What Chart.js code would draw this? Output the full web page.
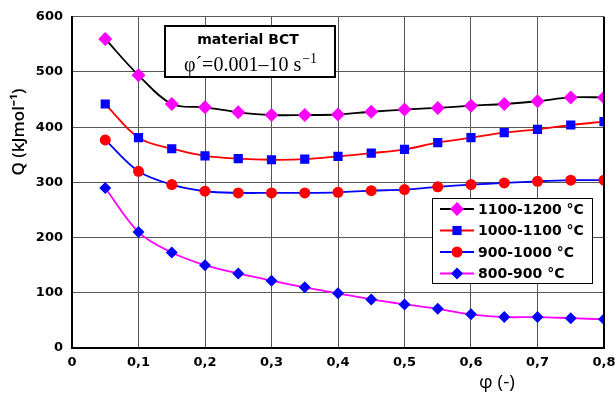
<!DOCTYPE html>
<html>
<head>
<meta charset="utf-8">
<script src="https://cdn.jsdelivr.net/npm/chart.js@4"></script>
<style>
  html, body { margin: 0; padding: 0; background: #fff; }
  canvas { display: block; }
</style>
</head>
<body>
<canvas id="qChart" width="616" height="406"></canvas>
<script>
// strain values (phi) and activation energy Q for each temperature range
const strain = [0.05, 0.1, 0.15, 0.2, 0.25, 0.3, 0.35, 0.4, 0.45, 0.5, 0.55, 0.6, 0.65, 0.7, 0.75, 0.8];
const q1100_1200 = [560, 494, 442, 436, 427, 422, 422, 423, 428, 432, 435, 439, 442, 447, 454, 454];
const q1000_1100 = [442, 381, 361, 348, 343, 341, 342, 347, 353, 360, 372, 381, 390, 396, 404, 410];
const q900_1000 = [377, 320, 296, 284, 281, 281, 281, 282, 285, 287, 292, 296, 299, 302, 304, 304];
const q800_900 = [290, 210, 173, 150, 135, 122, 110, 99, 88, 79, 71, 61, 56, 56, 54, 52];
const seriesLabels = ['1100-1200 °C', '1000-1100 °C', '900-1000 °C', '800-900 °C'];
const xTicks = [0, 0.1, 0.2, 0.3, 0.4, 0.5, 0.6, 0.7, 0.8];
const yTicks = [0, 100, 200, 300, 400, 500, 600];

function toPoints(values) {
    return values.map((v, i) => ({ x: strain[i], y: v }));
}

function makeDataset(label, values, lineColor, markerColor, style, radius) {
    return {
        label: label,
        data: toPoints(values),
        borderColor: lineColor,
        borderWidth: 1.8,
        backgroundColor: markerColor,
        pointBackgroundColor: markerColor,
        pointBorderColor: markerColor,
        pointBorderWidth: 0,
        pointStyle: style,
        pointRadius: radius,
        tension: 0.35,
        fill: false
    };
}

const datasets = [
    makeDataset(seriesLabels[0], q1100_1200, '#000000', '#ff00ff', 'rectRot', 7),
    makeDataset(seriesLabels[1], q1000_1100, '#ff0000', '#0000ff', 'rect', 6.5),
    makeDataset(seriesLabels[2], q900_1000, '#0000ff', '#ff0000', 'circle', 5.5),
    makeDataset(seriesLabels[3], q800_900, '#ff00ff', '#0000ff', 'rectRot', 6)
];

// draw a marker like the chart's points (used by the legend)
function drawMarker(ctx, style, x, y, r, color) {
    ctx.save();
    ctx.fillStyle = color;
    ctx.beginPath();
    if (style === 'circle') {
        ctx.arc(x, y, r, 0, Math.PI * 2);
    } else if (style === 'rect') {
        const s = r * Math.SQRT1_2;
        ctx.rect(x - s, y - s, 2 * s, 2 * s);
    } else {
        ctx.moveTo(x, y - r);
        ctx.lineTo(x + r, y);
        ctx.lineTo(x, y + r);
        ctx.lineTo(x - r, y);
        ctx.closePath();
    }
    ctx.fill();
    ctx.restore();
}

const decorations = {
    id: 'decorations',
    afterDraw(chart) {
        const ctx = chart.ctx;
        const area = chart.chartArea;

        // right frame line
        ctx.save();
        ctx.strokeStyle = '#000';
        ctx.lineWidth = 2;
        ctx.beginPath();
        ctx.moveTo(area.right, area.top);
        ctx.lineTo(area.right, area.bottom);
        ctx.stroke();
        ctx.restore();

        // annotation box
        ctx.save();
        ctx.fillStyle = '#fff';
        ctx.fillRect(165, 26, 170, 51);
        ctx.strokeStyle = '#000';
        ctx.lineWidth = 2;
        ctx.strokeRect(165, 26, 170, 51);
        ctx.fillStyle = '#000';
        ctx.textAlign = 'center';
        ctx.textBaseline = 'middle';
        ctx.font = 'bold 14px "DejaVu Sans"';
        ctx.fillText('material BCT', 248, 40);
        // second line with a real superscript
        ctx.textAlign = 'left';
        ctx.textBaseline = 'alphabetic';
        const main = 'φ´=0.001–10 s';
        const sup = '−1';
        ctx.font = '20px "Liberation Serif"';
        const wMain = ctx.measureText(main).width;
        ctx.font = '14px "Liberation Serif"';
        const wSup = ctx.measureText(sup).width;
        const startX = 250 - (wMain + wSup) / 2;
        ctx.font = '20px "Liberation Serif"';
        ctx.fillText(main, startX, 71);
        ctx.font = '14px "Liberation Serif"';
        ctx.fillText(sup, startX + wMain + 1, 63);
        ctx.restore();

        // legend
        const lx = 432, ly = 198, lw = 160, lh = 85;
        ctx.save();
        ctx.fillStyle = '#fff';
        ctx.fillRect(lx, ly, lw, lh);
        ctx.strokeStyle = '#000';
        ctx.lineWidth = 1;
        ctx.strokeRect(lx + 0.5, ly + 0.5, lw, lh);
        chart.data.datasets.forEach((ds, i) => {
            const cy = ly + 11 + i * 21.5;
            ctx.strokeStyle = ds.borderColor;
            ctx.lineWidth = 2;
            ctx.beginPath();
            ctx.moveTo(lx + 8, cy);
            ctx.lineTo(lx + 42, cy);
            ctx.stroke();
            drawMarker(ctx, ds.pointStyle, lx + 25, cy, ds.pointRadius, ds.pointBackgroundColor);
            ctx.fillStyle = '#000';
            ctx.font = 'bold 14px "DejaVu Sans"';
            ctx.textAlign = 'left';
            ctx.textBaseline = 'middle';
            ctx.fillText(ds.label, lx + 46, cy + 1);
        });
        ctx.restore();

        // axis titles
        ctx.save();
        ctx.fillStyle = '#000';
        ctx.textAlign = 'center';
        ctx.textBaseline = 'middle';
        ctx.font = '19px "Open Sans"';
        ctx.fillText('φ (-)', 497, 383);
        ctx.translate(19, 132);
        ctx.rotate(-Math.PI / 2);
        ctx.font = '600 17px "Open Sans"';
        ctx.fillText('Q (kJmol⁻¹)', 0, 0);
        ctx.restore();
    }
};

new Chart(document.getElementById('qChart'), {
    type: 'line',
    data: { datasets: datasets },
    options: {
        responsive: false,
        animation: false,
        layout: { padding: { left: 0, right: 12, top: 15, bottom: 0 } },
        plugins: {
            legend: { display: false },
            tooltip: { enabled: false }
        },
        scales: {
            x: {
                type: 'linear',
                min: 0,
                max: 0.8,
                afterBuildTicks: scale => { scale.ticks = xTicks.map(v => ({ value: v })); },
                afterFit: scale => {
                    scale.height = 58;
                    scale.paddingLeft = 0;
                    scale.paddingRight = 0;
                },
                grid: { color: '#555', lineWidth: 1, drawTicks: false },
                border: { color: '#000', width: 2 },
                ticks: {
                    color: '#000',
                    padding: 7,
                    font: { family: 'DejaVu Sans', size: 13, weight: 'bold' },
                    callback: v => (v === 0 ? '0' : v.toFixed(1).replace('.', ','))
                }
            },
            y: {
                min: 0,
                max: 600,
                afterBuildTicks: scale => { scale.ticks = yTicks.map(v => ({ value: v })); },
                afterFit: scale => { scale.width = 72; },
                grid: { color: '#555', lineWidth: 1, drawTicks: false },
                border: { color: '#000', width: 2 },
                ticks: {
                    color: '#000',
                    padding: 9,
                    font: { family: 'DejaVu Sans', size: 13, weight: 'bold' }
                }
            }
        }
    },
    plugins: [decorations]
});
</script>
</body>
</html>
